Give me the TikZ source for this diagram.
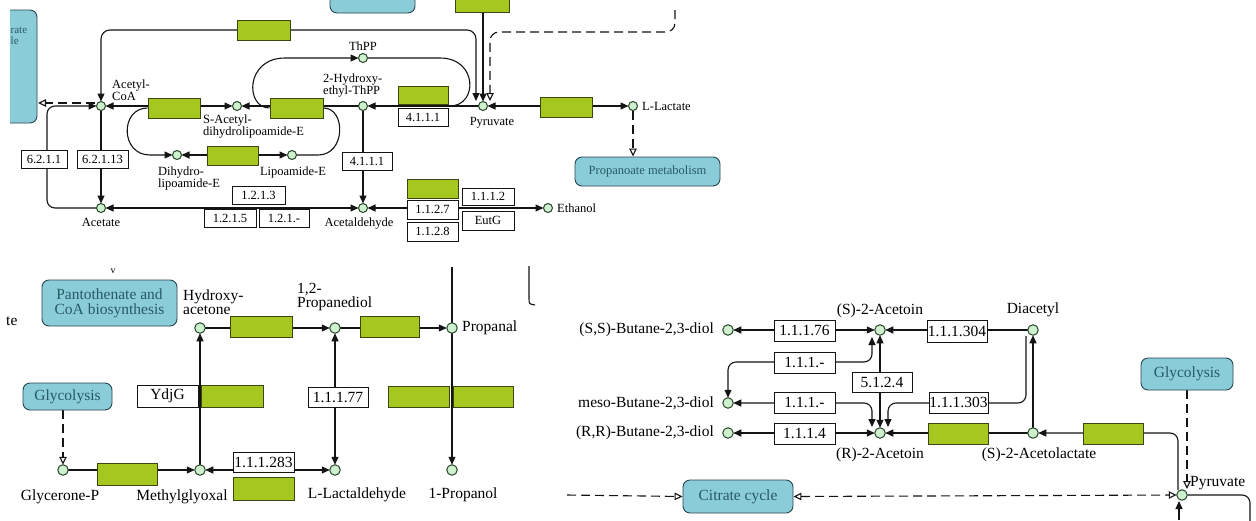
\documentclass[tikz,border=0pt]{standalone}
\usepackage{fontspec}
\setmainfont{Liberation Serif}
\usetikzlibrary{arrows.meta}
\pgfdeclarelayer{bg}
\pgfdeclarelayer{paper}
\pgfsetlayers{paper,bg,main}
\definecolor{gf}{RGB}{166,198,32}
\definecolor{gb}{RGB}{60,70,20}
\definecolor{cf}{RGB}{138,204,216}
\definecolor{cb}{RGB}{40,70,80}
\definecolor{ct}{RGB}{40,90,100}
\definecolor{mf}{RGB}{206,240,206}
\definecolor{mb}{RGB}{40,70,40}
\definecolor{lc}{RGB}{20,20,20}
\newcommand\kbox[7]{\node[#1, minimum width={(#5)-(#3)}, minimum height={(#6)-(#4)}] (#2) at ({((#3)+(#5))/2},{((#4)+(#6))/2}) {#7};}
\tikzset{
  >={Triangle[length=8pt,width=7pt]},
  ln/.style={line width=1.1pt, draw=lc},
  dsh/.style={ln, dash pattern=on 9pt off 5pt},
  oarr/.style={-{Triangle[open,length=8pt,width=7.5pt,fill=white]}},
  oarrb/.style={{Triangle[open,length=8pt,width=7.5pt,fill=white]}-{Triangle[open,length=8pt,width=7.5pt,fill=white]}},
  metT/.style={circle, draw=mb, fill=mf, line width=1pt, minimum size=9pt, inner sep=0pt, outer sep=0pt},
  metB/.style={metT, minimum size=10.5pt},
  enzT/.style={draw=lc, fill=white, line width=0.9pt, inner sep=0pt, font=\fontsize{12.5}{13}\selectfont},
  enzB/.style={enzT, font=\fontsize{15.5}{16}\selectfont},
  gbx/.style={draw=gb, fill=gf, line width=1pt, inner sep=0pt},
  mapT/.style={draw=cb, fill=cf, line width=0.9pt, rounded corners=7pt, inner sep=0pt, text=ct, align=center, font=\fontsize{12.5}{13}\selectfont},
  mapB/.style={mapT, font=\fontsize{15.5}{15}\selectfont},
  labT/.style={inner sep=0pt, font=\fontsize{12.5}{12}\selectfont},
  labB/.style={inner sep=0pt, font=\fontsize{15.5}{14}\selectfont},
}
\begin{document}
\begin{tikzpicture}[x=1pt,y=-1pt]
\useasboundingbox (0,0) rectangle (1256,520);
\begin{pgfonlayer}{paper}
\fill[white] (0,0) rectangle (1256,520);
\end{pgfonlayer}

%================ TOP SECTION =================
\begin{scope}
\clip (10,0) rectangle (60,130);
\draw[mapT] (-40,10) rectangle (37,123);
\end{scope}
\node[labT, text=ct, align=left, anchor=north west, font=\fontsize{11}{11}\selectfont] (citLtxt) at (10.5,27) {rate\\le};
\kbox{mapT}{cTop}{330}{-12}{415}{13}{}
\kbox{gbx}{Gtop}{455}{-8}{509}{12}{}
\kbox{mapT}{prop}{575}{157}{720}{186}{Propanoate metabolism}

\node[metT] (acoa) at (101,106) {};
\node[metT] (sacet) at (237,106) {};
\node[metT] (hthpp) at (363,106) {};
\node[metT] (thpp) at (363,58) {};
\node[metT] (pyr) at (483,106) {};
\node[metT] (llac) at (633,106) {};
\node[metT] (dihy) at (177,155) {};
\node[metT] (lipo) at (292,155) {};
\node[metT] (acetate) at (101,208) {};
\node[metT] (acald) at (363,208) {};
\node[metT] (ethanol) at (548,208) {};

\kbox{gbx}{G1}{237}{20}{290}{40}{}
\kbox{gbx}{G2}{148}{98}{200}{118}{}
\kbox{gbx}{G3}{270}{98}{323}{118}{}
\kbox{gbx}{G4}{398}{86}{448}{104}{}
\kbox{gbx}{G5}{540}{97}{592}{117}{}
\kbox{gbx}{G6}{207}{146}{258}{165}{}
\kbox{gbx}{G7}{407}{179}{458}{198}{}

\kbox{enzT}{e6211}{21}{150}{67}{168}{6.2.1.1}
\kbox{enzT}{e62113}{77}{150}{128}{168}{6.2.1.13}
\kbox{enzT}{e4111a}{398}{108}{448}{126}{4.1.1.1}
\kbox{enzT}{e4111b}{342}{152}{392}{170}{4.1.1.1}
\kbox{enzT}{e1213}{232}{186}{285}{204}{1.2.1.3}
\kbox{enzT}{e1215}{204}{209}{256}{227}{1.2.1.5}
\kbox{enzT}{e121x}{259}{209}{309}{227}{1.2.1.-}
\kbox{enzT}{e1112}{462}{188}{514}{205}{1.1.1.2}
\kbox{enzT}{e1127}{407}{200}{458}{219}{1.1.2.7}
\kbox{enzT}{eEutG}{462}{211}{514}{230}{EutG}
\kbox{enzT}{e1128}{407}{222}{458}{241}{1.1.2.8}

\node[labT, align=left, anchor=north west] (lacoa) at (112,80) {Acetyl-\\CoA};
\node[labT, align=left, anchor=north west] (lsacet) at (203,115) {S-Acetyl-\\dihydrolipoamide-E};
\node[labT, align=left, anchor=north west] (lhthpp) at (323,74) {2-Hydroxy-\\ethyl-ThPP};
\node[labT] (lthpp) at (363,46) {ThPP};
\node[labT] (lpyr) at (492,123) {Pyruvate};
\node[labT, anchor=west] (lllac) at (642,106) {L-Lactate};
\node[labT, align=left, anchor=north west] (ldihy) at (158,167) {Dihydro-\\lipoamide-E};
\node[labT] (llipo) at (293,172) {Lipoamide-E};
\node[labT] (lacetate) at (101,222) {Acetate};
\node[labT] (lacald) at (359,224) {Acetaldehyde};
\node[labT, anchor=west] (lethanol) at (557,208) {Ethanol};

\coordinate (pA) at (476,101);
\coordinate (pB) at (490,101);
\coordinate (dA) at (675,10);
\coordinate (acoaD) at (95,103);
\coordinate (citLE) at (38,103);

\begin{pgfonlayer}{bg}
\draw[ln,<->] (acoa.east) -- (sacet.west);
\draw[ln,->] (hthpp.west) -- (sacet.east);
\draw[ln,->] (pyr.west) -- (hthpp.east);
\draw[ln,<->] (pyr.east) -- (llac.west);
\draw[ln,->] (hthpp.south) -- (acald.north);
\draw[ln,->] (acoa.south) -- (acetate.north);
\draw[ln,<->] (acetate.east) -- (acald.west);
\draw[ln,<->] (acald.east) -- (ethanol.west);
\draw[ln,<->] (dihy.east) -- (lipo.west);
\draw[ln,->,rounded corners=8] (acetate.west) -- (47,208) -- (47,106) -- (acoa.west);
\draw[ln,<->,rounded corners=9] (acoa.north) -- (101,30) -- (476,30) -- (pA);
\draw[ln,->] (pyr.north |- Gtop.south) -- (pyr.north);
\draw[dsh,oarr,rounded corners=9] (dA) -- (675,32) -- (490,32) -- (pB);
\draw[dsh,oarr] (acoaD) -- (citLE);
\draw[dsh,oarr] (llac.south) -- (llac.south |- prop.north);
\draw[ln,->] (G3.west) .. controls (245,108) and (245,58) .. (285,58) -- (thpp.west);
\draw[ln] (thpp.east) -- (440,58) .. controls (478,58) and (478,106) .. (450,106);
\draw[ln,->] (G2.west) .. controls (120,108) and (120,155) .. (150,155) -- (dihy.west);
\draw[ln] (lipo.east) -- (318,155) .. controls (346,155) and (346,108) .. (G3.east);
\end{pgfonlayer}

%================ BOTTOM LEFT =================
\kbox{mapB}{panto}{42}{280}{177}{326}{Pantothenate and\\CoA biosynthesis}
\kbox{mapB}{glyc1}{23}{383}{112}{410}{Glycolysis}
\node[inner sep=0pt, font=\fontsize{10}{10}\selectfont] (vmark) at (113,271) {v};
\node[labB, anchor=west] (lte) at (6,321) {te};

\node[metB] (glyP) at (63,470) {};
\node[metB] (mgly) at (200,470) {};
\node[metB] (hyac) at (200,328) {};
\node[metB] (prdiol) at (335,328) {};
\node[metB] (propanal) at (452,328) {};
\node[metB] (llald) at (335,470) {};
\node[metB] (propanol) at (452,470) {};

\kbox{enzB}{eYdjG}{137}{385}{198}{407}{YdjG}
\kbox{gbx}{H1}{201}{385}{263}{407}{}
\kbox{gbx}{H2}{230}{316}{292}{337}{}
\kbox{gbx}{H3}{360}{316}{419}{337}{}
\kbox{enzB}{e11177}{308}{387}{368}{407}{1.1.1.77}
\kbox{gbx}{H4}{388}{386}{449}{407}{}
\kbox{gbx}{H5}{453}{386}{513}{407}{}
\kbox{enzB}{e111283}{233}{452}{294}{472}{1.1.1.283}
\kbox{gbx}{H6}{233}{477}{294}{500}{}
\kbox{gbx}{H7}{97}{463}{157}{485}{}

\node[labB] (lglyP) at (60,497) {Glycerone-P};
\node[labB] (lmgly) at (182,497) {Methylglyoxal};
\node[labB, align=left, anchor=north west] (lhyac) at (183,290) {Hydroxy-\\acetone};
\node[labB, align=left, anchor=north west] (lprdiol) at (297,283) {1,2-\\Propanediol};
\node[labB, anchor=west] (lpropanal) at (462,328) {Propanal};
\node[labB] (lllald) at (357,495) {L-Lactaldehyde};
\node[labB] (lpropanol) at (463,495) {1-Propanol};

\coordinate (vtop) at (452,267);
\begin{pgfonlayer}{bg}
\draw[dsh,oarr] (glyP.north |- glyc1.south) -- (glyP.north);
\draw[ln,->] (glyP.east) -- (mgly.west);
\draw[ln,->] (mgly.north) -- (hyac.south);
\draw[ln,<->] (mgly.east) -- (llald.west);
\draw[ln,->] (hyac.east) -- (prdiol.west);
\draw[ln,<->] (prdiol.south) -- (llald.north);
\draw[ln,->] (prdiol.east) -- (propanal.west);
\draw[ln,->] (vtop) -- (propanol.north);
\draw[ln] (529,266) -- (529,298) .. controls (529,304) .. (535,305);
\end{pgfonlayer}

%================ BOTTOM RIGHT =================
\kbox{mapB}{glyc2}{1141}{358}{1233}{390}{Glycolysis}
\kbox{mapB}{citr}{683}{480}{793}{513}{Citrate cycle}

\node[metB] (ssbd) at (728,330) {};
\node[metB] (sacn) at (880,330) {};
\node[metB] (diac) at (1033,330) {};
\node[metB] (meso) at (728,403) {};
\node[metB] (rrbd) at (728,433) {};
\node[metB] (racn) at (880,433) {};
\node[metB] (sacl) at (1033,433) {};
\node[metB] (pyr2) at (1182,495) {};

\kbox{enzB}{e11176}{774}{320}{835}{341}{1.1.1.76}
\kbox{enzB}{e111xa}{774}{352}{835}{373}{1.1.1.-}
\kbox{enzB}{e5124}{852}{372}{912}{392}{5.1.2.4}
\kbox{enzB}{e111xb}{774}{392}{835}{413}{1.1.1.-}
\kbox{enzB}{e1114}{774}{423}{835}{444}{1.1.1.4}
\kbox{enzB}{e111304}{927}{320}{987}{342}{1.1.1.304}
\kbox{enzB}{e111303}{929}{392}{988}{413}{1.1.1.303}
\kbox{gbx}{K1}{928}{423}{988}{444}{}
\kbox{gbx}{K2}{1083}{423}{1143}{444}{}

\node[labB, anchor=east] (lssbd) at (714,330) {(S,S)-Butane-2,3-diol};
\node[labB] (lsacn) at (880,311) {(S)-2-Acetoin};
\node[labB] (ldiac) at (1033,310) {Diacetyl};
\node[labB, anchor=east] (lmeso) at (714,403) {meso-Butane-2,3-diol};
\node[labB, anchor=east] (lrrbd) at (714,433) {(R,R)-Butane-2,3-diol};
\node[labB] (lracn) at (880,455) {(R)-2-Acetoin};
\node[labB] (lsacl) at (1039,455) {(S)-2-Acetolactate};
\node[labB, anchor=west] (lpyr2) at (1190,483) {Pyruvate};

\coordinate (sA) at (872,337);
\coordinate (rA) at (872,427);
\coordinate (rC) at (888,427);
\coordinate (dB) at (1026,336);
\coordinate (pyUp) at (1178,490);
\coordinate (dL) at (567,495);
\coordinate (bot1) at (1179,520);
\begin{pgfonlayer}{bg}
\draw[ln,<->] (ssbd.east) -- (sacn.west);
\draw[ln,<->,rounded corners=8] (sA) -- (872,362) -- (728,362) -- (meso.north);
\draw[ln,<->] (sacn.south) -- (racn.north);
\draw[ln,<->,rounded corners=8] (meso.east) -- (872,403) -- (rA);
\draw[ln,->,rounded corners=8] (dB) -- (1026,403) -- (888,403) -- (rC);
\draw[ln,<->] (rrbd.east) -- (racn.west);
\draw[ln,->] (sacl.west) -- (racn.east);
\draw[ln,->] (sacl.north) -- (diac.south);
\draw[ln,->] (diac.west) -- (sacn.east);
\draw[ln,->,rounded corners=8] (pyUp) -- (1178,433) -- (sacl.east);
\draw[dsh,oarr] (1187,390) -- (1187,489);
\draw[dsh,oarr] (dL) -- (citr.west);
\draw[dsh,oarrb] (citr.east) -- (pyr2.west);
\draw[ln,rounded corners=8] (pyr2.east) -- (1250,495) -- (1250,522);
\draw[ln,->] (bot1) -- (1179,501);
\end{pgfonlayer}
\end{tikzpicture}
\end{document}
